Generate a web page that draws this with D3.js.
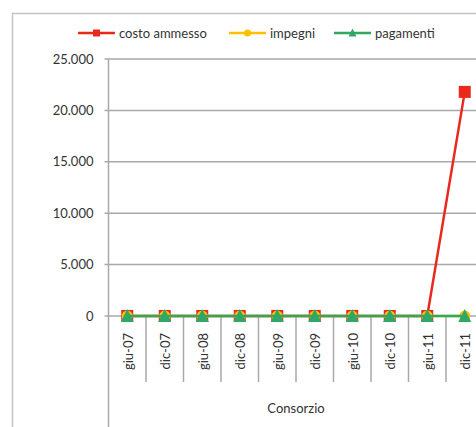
<!DOCTYPE html>
<html>
<head>
<meta charset="utf-8">
<script src="https://cdn.jsdelivr.net/npm/d3@7"></script>
<style>
  body { margin: 0; background: #fff; overflow: hidden; }
  svg { display: block; font-family: Lato, "Open Sans", sans-serif; }
</style>
</head>
<body>
<div id="chart"></div>
<script>
// categorie (semestri) e valori delle tre serie
const categories = ["giu-07", "dic-07", "giu-08", "dic-08", "giu-09", "dic-09", "giu-10", "dic-10", "giu-11", "dic-11"];
const costoAmmesso = [0, 0, 0, 0, 0, 0, 0, 0, 0, 21800];
const impegni = [0, 0, 0, 0, 0, 0, 0, 0, 0, 0];
const pagamenti = [0, 0, 0, 0, 0, 0, 0, 0, 0, 0];
const yTicks = [0, 5000, 10000, 15000, 20000, 25000];
const groupLabel = "Consorzio";

const series = [
  {name: "costo ammesso", values: costoAmmesso, color: "#e8291c", marker: "square"},
  {name: "impegni", values: impegni, color: "#ffc000", marker: "circle"},
  {name: "pagamenti", values: pagamenti, color: "#2fa866", marker: "triangle"}
];

const width = 476, height = 427;
const plot = {left: 108.5, right: 483.5, top: 59, bottom: 316};
const textColor = "#333";

const svg = d3.select("#chart")
  .append("svg")
  .attr("width", width)
  .attr("height", height);

// bordo esterno del grafico (tagliato a destra e in basso)
svg.append("rect")
  .attr("x", 12.5).attr("y", 13.5)
  .attr("width", 600).attr("height", 600)
  .attr("fill", "none")
  .attr("stroke", "#c4c4c4")
  .attr("stroke-width", 1.5);

const x = d3.scaleBand()
  .domain(categories)
  .range([plot.left, plot.right])
  .padding(0);

const y = d3.scaleLinear()
  .domain([0, 25000])
  .range([plot.bottom, plot.top]);

const fmt = d3.formatLocale({decimal: ",", thousands: ".", grouping: [3], currency: ["€", ""]}).format(",d");

// griglia orizzontale
svg.append("g")
  .selectAll("line")
  .data(yTicks)
  .join("line")
    .attr("x1", plot.left - 4)
    .attr("x2", width + 10)
    .attr("y1", d => y(d))
    .attr("y2", d => y(d))
    .attr("stroke", "#a9a9a9")
    .attr("stroke-width", 1.5);

// asse Y
const yAxis = svg.append("g")
  .attr("transform", `translate(${plot.left},0)`)
  .call(d3.axisLeft(y).tickValues(yTicks).tickFormat(fmt).tickSize(0).tickPadding(15));
yAxis.select(".domain").remove();
yAxis.selectAll("text")
  .style("font-size", "13px")
  .style("font-family", "Lato, sans-serif")
  .attr("fill", textColor);

svg.append("line")
  .attr("x1", plot.left).attr("x2", plot.left)
  .attr("y1", plot.top).attr("y2", height + 5)
  .attr("stroke", "#a9a9a9")
  .attr("stroke-width", 1.5);

// separatori delle categorie
svg.append("g")
  .selectAll("line")
  .data(categories.slice(1))
  .join("line")
    .attr("x1", d => x(d))
    .attr("x2", d => x(d))
    .attr("y1", plot.bottom)
    .attr("y2", 382)
    .attr("stroke", "#a9a9a9")
    .attr("stroke-width", 1.5);

// etichette categorie ruotate
svg.append("g")
  .selectAll("text")
  .data(categories)
  .join("text")
    .attr("transform", d => `translate(${x(d) + x.bandwidth() / 2 + 1},333) rotate(-90)`)
    .attr("text-anchor", "end")
    .attr("dy", "0.35em")
    .style("font-size", "13px")
    .attr("fill", textColor)
    .text(d => d);

svg.append("text")
  .attr("x", (plot.left + plot.right) / 2)
  .attr("y", 413)
  .attr("text-anchor", "middle")
  .style("font-size", "13px")
  .attr("fill", textColor)
  .text(groupLabel);

// simboli
function drawMarker(g, type, color, size) {
  if (type === "square") {
    g.append("rect")
      .attr("x", -size / 2).attr("y", -size / 2)
      .attr("width", size).attr("height", size)
      .attr("fill", color);
  } else if (type === "circle") {
    g.append("circle")
      .attr("r", size / 2)
      .attr("fill", color);
  } else {
    const h = size;
    g.append("path")
      .attr("d", `M0,${-h / 2 - 1}L${size / 2 + 0.5},${h / 2}L${-size / 2 - 0.5},${h / 2}Z`)
      .attr("fill", color);
  }
}

const line = d3.line()
  .x((d, i) => x(categories[i]) + x.bandwidth() / 2)
  .y(d => y(d));

const markerSize = {square: 12, circle: 11, triangle: 12};

series.forEach(s => {
  svg.append("path")
    .datum(s.values)
    .attr("fill", "none")
    .attr("stroke", s.color)
    .attr("stroke-width", 2.5)
    .attr("d", line);

  s.values.forEach((v, i) => {
    const g = svg.append("g")
      .attr("transform", `translate(${x(categories[i]) + x.bandwidth() / 2},${y(v)})`);
    drawMarker(g, s.marker, s.color, markerSize[s.marker]);
  });
});

// legenda
const legendX = [78, 229, 334];
const legend = svg.append("g");
series.forEach((s, i) => {
  const g = legend.append("g").attr("transform", `translate(${legendX[i]},33)`);
  g.append("line")
    .attr("x1", 0).attr("x2", 37)
    .attr("stroke", s.color)
    .attr("stroke-width", 2.5);
  const m = g.append("g").attr("transform", "translate(18.5,0)");
  drawMarker(m, s.marker, s.color, 7);
  g.append("text")
    .attr("x", 41)
    .attr("dy", "0.35em")
    .style("font-size", "13px")
    .attr("fill", textColor)
    .text(s.name);
});
</script>
</body>
</html>
